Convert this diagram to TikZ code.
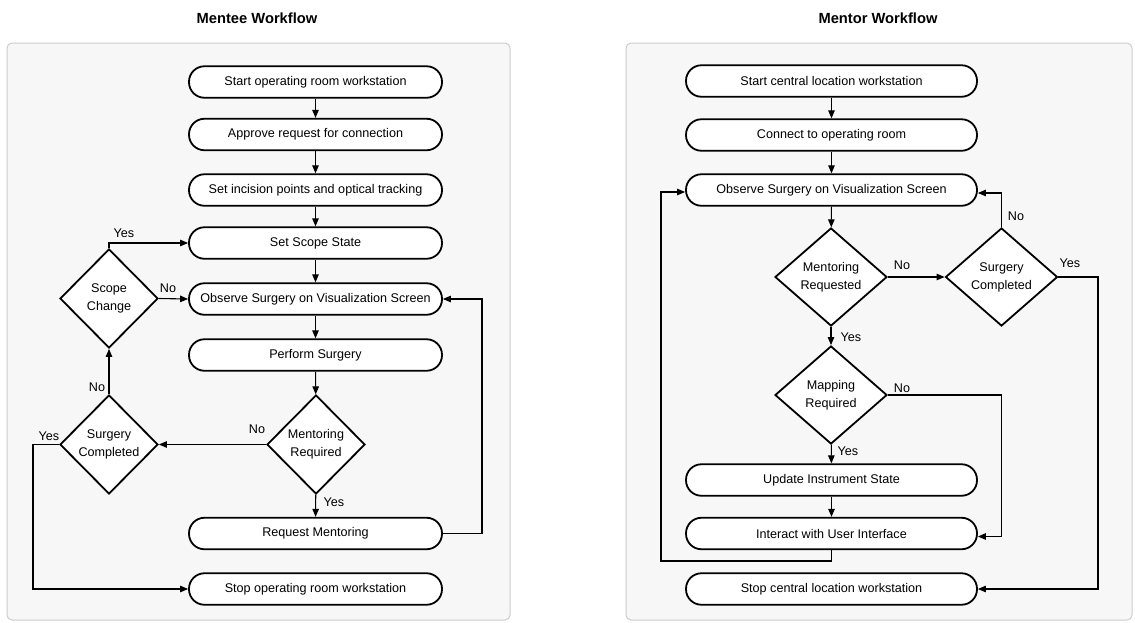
\documentclass[tikz,border=0pt]{standalone}
\usepackage{fontspec}
\setmainfont{Liberation Sans}
\usetikzlibrary{shapes.geometric,arrows.meta}
\definecolor{panelfill}{HTML}{F7F7F7}
\definecolor{panelline}{HTML}{CCCCCC}
\tikzset{
  panel/.style={draw=panelline, fill=panelfill, line width=1pt, rounded corners=5pt},
  title/.style={font=\fontsize{14.7}{17}\selectfont\bfseries},
  stepbox/.style={draw, fill=white, line width=1.8pt, rounded corners=15.5pt, minimum height=31.5pt, inner sep=0pt, font=\fontsize{12.6}{15}\selectfont},
  boxL/.style={stepbox, minimum width=253pt},
  boxR/.style={stepbox, minimum width=291pt},
  decide/.style={diamond, draw, fill=white, line width=1.8pt, inner sep=0pt, align=center, font=\fontsize{12.6}{18}\selectfont},
  decL/.style={decide, minimum width=98pt, minimum height=99pt},
  decR/.style={decide, minimum width=112pt, minimum height=98pt},
  arr/.style={line width=1.1pt, -{Triangle[length=8pt,width=6.5pt]}},
  lab/.style={font=\fontsize{12.6}{15}\selectfont, inner sep=0pt},
}
\begin{document}
\begin{tikzpicture}[x=1pt,y=-1pt]
\useasboundingbox (0,0) rectangle (1135,622);
% panels
\draw[panel] (7,43) rectangle (510,620);
\draw[panel] (626,43) rectangle (1132,620);
\node[title] (tL) at (257,18) {Mentee Workflow};
\node[title] (tR) at (878,18) {Mentor Workflow};

% ---------- Mentee ----------
\node[boxL] (s1) at (315.5,82) {Start operating room workstation};
\node[boxL] (s2) at (315.5,134.5) {Approve request for connection};
\node[boxL] (s3) at (315.5,190) {Set incision points and optical tracking};
\node[boxL] (s4) at (315.5,243) {Set Scope State};
\node[boxL] (s5) at (315.5,299) {Observe Surgery on Visualization Screen};
\node[boxL] (s6) at (315.5,355) {Perform Surgery};
\node[decL] (dm) at (316,444.5) {Mentoring\\Required};
\node[boxL] (s7) at (315.5,533.5) {Request Mentoring};
\node[boxL] (s8) at (315.5,589) {Stop operating room workstation};
\node[decL] (dsc) at (109,298.5) {Scope\\Change};
\node[decL] (dsd) at (109,444.5) {Surgery\\Completed};

\draw[arr] (s1) -- (s2);
\draw[arr] (s2) -- (s3);
\draw[arr] (s3) -- (s4);
\draw[arr] (s4) -- (s5);
\draw[arr] (s5) -- (s6);
\draw[arr] (s6) -- (dm);
\draw[arr] (dm) -- (s7);
\draw[arr] (dm.west) -- (dsd.east);
\draw[arr] (dsd.north) -- (dsc.south);
\draw[arr] (dsc.east) -- (s5.west);
\draw[arr] (dsc.north) |- (s4.west);
\coordinate (rL) at (482,533.5);
\draw[arr] (s7.east) -- (rL) |- (s5.east);
\coordinate (lL) at (33,444.5);
\draw[arr] (dsd.west) -- (lL) |- (s8.west);

\node[lab] (l1) at (124,233) {Yes};
\node[lab] (l2) at (168,288) {No};
\node[lab] (l3) at (257,429) {No};
\node[lab] (l4) at (334,502) {Yes};
\node[lab] (l5) at (97,387) {No};
\node[lab] (l6) at (49,436) {Yes};

% ---------- Mentor ----------
\node[boxR] (m1) at (831.5,81) {Start central location workstation};
\node[boxR] (m2) at (831.5,135) {Connect to operating room};
\node[boxR] (m3) at (831.5,190) {Observe Surgery on Visualization Screen};
\node[decR] (dmr) at (831,277) {Mentoring\\Requested};
\node[decR] (dsr) at (1001.5,277) {Surgery\\Completed};
\node[decR] (dmp) at (831,395) {Mapping\\Required};
\node[boxR] (m4) at (831.5,480) {Update Instrument State};
\node[boxR] (m5) at (831.5,533.5) {Interact with User Interface};
\node[boxR] (m6) at (831.5,589) {Stop central location workstation};

\draw[arr] (m1) -- (m2);
\draw[arr] (m2) -- (m3);
\draw[arr] (m3) -- (dmr);
\draw[arr] (dmr) -- (dmp);
\draw[arr] (dmp) -- (m4);
\draw[arr] (m4) -- (m5);
\draw[arr] (dmr.east) -- (dsr.west);
\draw[arr] (dsr.north) |- ([yshift=-3pt]m3.east);
\coordinate (rR) at (1098,277);
\draw[arr] (dsr.east) -- (rR) |- (m6.east);
\coordinate (mR) at (1001.5,395);
\draw[arr] (dmp.east) -- (mR) |- ([yshift=-3pt]m5.east);
\coordinate (bR) at (661,561);
\draw[arr] (m5.south) |- (bR) |- ([yshift=-2pt]m3.west);

\node[lab] (r1) at (902,265) {No};
\node[lab] (r2) at (1016,216) {No};
\node[lab] (r3) at (1070,263) {Yes};
\node[lab] (r4) at (851,337) {Yes};
\node[lab] (r5) at (848,451) {Yes};
\node[lab] (r6) at (902,388) {No};
\end{tikzpicture}
\end{document}
